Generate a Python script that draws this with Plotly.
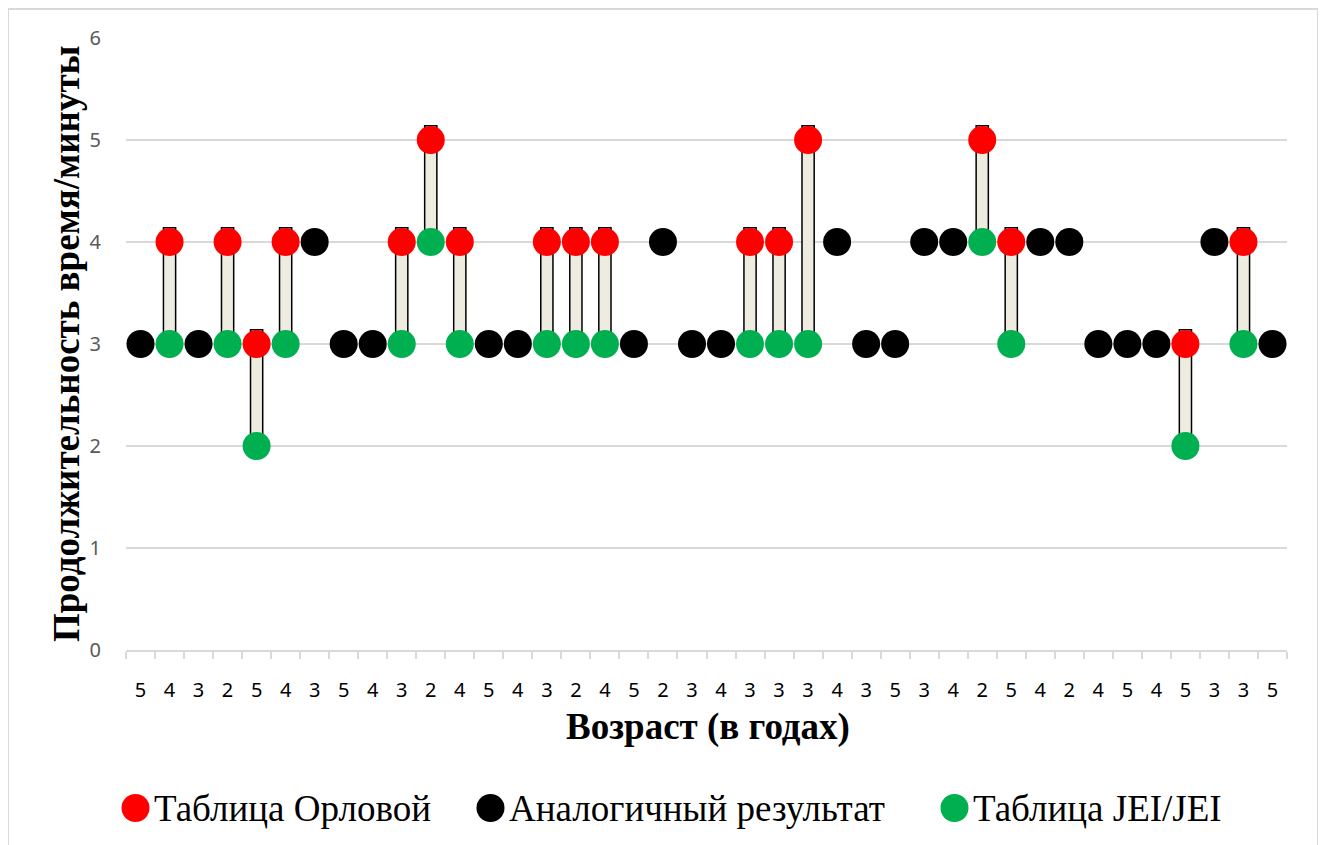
import plotly.graph_objects as go

# ---- data ----
age_labels = ["5", "4", "3", "2", "5", "4", "3", "5", "4", "3", "2", "4", "5", "4", "3", "2",
              "4", "5", "2", "3", "4", "3", "3", "3", "4", "3", "5", "3", "4", "2", "5", "4",
              "2", "4", "5", "4", "5", "3", "3", "5"]
orlova = [None, 4, None, 4, 3, 4, None, None, None, 4, 5, 4, None, None, 4, 4, 4, None, None, None,
          None, 4, 4, 5, None, None, None, None, None, 5, 4, None, None, None, None, None, 3, None, 4, None]
similar = [3, None, 3, None, None, None, 4, 3, 3, None, None, None, 3, 3, None, None, None, 3, 4, 3,
           3, None, None, None, 4, 3, 3, 4, 4, None, None, 4, 4, 3, 3, 3, None, 4, None, 3]
jei = [None, 3, None, 3, 2, 3, None, None, None, 3, 4, 3, None, None, 3, 3, 3, None, None, None,
       None, 3, 3, 3, None, None, None, None, None, 4, 3, None, None, None, None, None, 2, None, 3, None]
series_names = ["Таблица Орловой", "Аналогичный результат", "Таблица JEI/JEI"]
y_ticks = [0, 1, 2, 3, 4, 5, 6]

# ---- styles ----
RED, BLACK, GREEN = "#FF0000", "#000000", "#00B050"
GRID = "#D9D9D9"
SERIF = "Liberation Serif"
MS = 28
TOP_PAD = 0.14  # bar cap extends to top of the marker

x = list(range(len(age_labels)))
bar_base = [g if (r is not None and g is not None) else None for r, g in zip(orlova, jei)]
bar_h = [(r - g + TOP_PAD) if (r is not None and g is not None) else None for r, g in zip(orlova, jei)]

fig = go.Figure()
fig.add_trace(go.Bar(x=x, y=bar_h, base=bar_base, width=0.42,
                     marker=dict(color="#EEEBE0", line=dict(color="black", width=1.5)),
                     showlegend=False, hoverinfo="skip"))
for vals, col, name in [(orlova, RED, series_names[0]), (similar, BLACK, series_names[1]), (jei, GREEN, series_names[2])]:
    fig.add_trace(go.Scatter(x=x, y=vals, mode="markers", name=name,
                             marker=dict(color=col, size=MS, line=dict(width=0)),
                             showlegend=False))

# page has an 8px body margin; screen coordinates below are window pixels
OFF = 8
W, H = 1326 - OFF, 845 - OFF
PL, PR, PT, PB = 126, 1287, 38, 650  # plot area in window pixels
L, T = PL - OFF, PT - OFF
R = W - (PR - OFF)
B = H - (PB - OFF)
pw, ph = PR - PL, PB - PT


def px(xp):
    return (xp - PL) / pw


def py(yp):
    return (PB - yp) / ph


annotations = [
    dict(text="<b>Возраст (в годах)</b>", x=px(708), y=py(727), xref="paper", yref="paper",
         showarrow=False, xanchor="center", yanchor="middle", font=dict(family=SERIF, size=37, color="black")),
    dict(text="<b>Продолжительность время/минуты</b>", x=px(66), y=py(344), xref="paper", yref="paper",
         showarrow=False, textangle=-90, xanchor="center", yanchor="middle",
         font=dict(family=SERIF, size=37, color="black")),
]
shapes = [
    dict(type="rect", xref="paper", yref="paper", x0=px(8), x1=px(1318), y0=py(900), y1=py(9),
         line=dict(color=GRID, width=2), fillcolor="rgba(0,0,0,0)", layer="below"),
]
legend_items = [(135.5, 152, RED, series_names[0]), (490.5, 507, BLACK, series_names[1]),
                (954.5, 971, GREEN, series_names[2])]
for cx, tx, col, name in legend_items:
    shapes.append(dict(type="circle", xref="paper", yref="paper", xsizemode="pixel", ysizemode="pixel",
                       xanchor=px(cx), yanchor=py(808), x0=-14, x1=14, y0=-14, y1=14,
                       fillcolor=col, line=dict(width=0)))
    annotations.append(dict(text=name, x=px(tx), y=py(808), xref="paper", yref="paper", showarrow=False,
                            xanchor="left", yanchor="middle", font=dict(family=SERIF, size=37, color="black")))

fig.update_layout(
    width=W, height=H,
    margin=dict(l=L, r=R, t=T, b=B, pad=0),
    plot_bgcolor="white", paper_bgcolor="white",
    barmode="overlay",
    showlegend=False,
    annotations=annotations,
    shapes=shapes,
    xaxis=dict(range=[-0.5, len(x) - 0.5], tickvals=x, ticktext=age_labels,
               ticks="outside", ticklen=21, tickcolor="rgba(0,0,0,0)",
               tickfont=dict(family="Noto Sans", size=20, color="black"),
               showgrid=False, zeroline=False, showline=True, linecolor=GRID, linewidth=2,
               minor=dict(tickvals=[i - 0.5 for i in range(len(x) + 1)], ticks="outside",
                          ticklen=7, tickcolor=GRID, tickwidth=2, showgrid=False),
               fixedrange=True),
    yaxis=dict(range=[0, 6], tickvals=y_ticks, ticks="outside", ticklen=20, tickcolor="rgba(0,0,0,0)",
               tickfont=dict(family="Noto Sans", size=20, color="#595959"),
               showgrid=True, gridcolor=GRID, gridwidth=2, zeroline=False, showline=False,
               fixedrange=True),
)

fig.write_html("out.html")
